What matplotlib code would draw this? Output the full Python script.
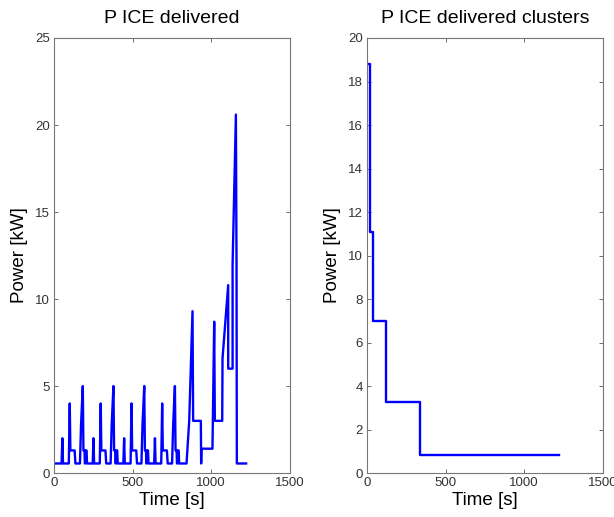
import numpy as np
import matplotlib.pyplot as plt

plt.rcParams['font.family'] = ['Liberation Sans', 'DejaVu Sans']

# P ICE delivered: time [s] and power [kW]
t_ice = [0, 48, 53, 57, 94, 100, 104, 131, 136, 165, 172, 183, 187, 194, 196, 199, 201, 207, 210,
         246, 251, 255, 291, 297, 301, 327, 332, 360, 367, 378, 382, 389, 391, 394, 396, 402, 405,
         441, 446, 450, 487, 493, 497, 523, 528, 556, 563, 574, 578, 585, 587, 590, 592, 598, 601,
         637, 642, 646, 682, 688, 692, 718, 723, 751, 758, 769, 773, 780, 782, 785, 787, 793, 796,
         843, 860, 881, 885, 934, 936, 938, 1008, 1019, 1023, 1070, 1072, 1108, 1108, 1136, 1136,
         1157, 1161, 1163, 1222]
p_ice = [0.55, 0.55, 2.0, 0.55, 0.55, 4.0, 1.3, 1.3, 0.55, 0.55, 2.8, 5.0, 1.3, 1.3, 0.55, 0.55, 1.3, 1.3, 0.55,
         0.55, 2.0, 0.55, 0.55, 4.0, 1.3, 1.3, 0.55, 0.55, 2.8, 5.0, 1.3, 1.3, 0.55, 0.55, 1.3, 1.3, 0.55,
         0.55, 2.0, 0.55, 0.55, 4.0, 1.3, 1.3, 0.55, 0.55, 2.8, 5.0, 1.3, 1.3, 0.55, 0.55, 1.3, 1.3, 0.55,
         0.55, 2.0, 0.55, 0.55, 4.0, 1.3, 1.3, 0.55, 0.55, 2.8, 5.0, 1.3, 1.3, 0.55, 0.55, 1.3, 1.3, 0.55,
         0.55, 3.0, 9.3, 3.0, 3.0, 0.55, 1.4, 1.4, 8.7, 3.0, 3.0, 6.6, 10.8, 6.0, 6.0, 12.0,
         20.6, 12.0, 0.55, 0.55]

# P ICE delivered clusters (step profile)
t_cl = [5, 17, 40, 117, 339, 1220]
p_cl = [18.8, 11.1, 7.0, 3.25, 0.82, 0.82]

fig = plt.figure(figsize=(6.14, 5.17), dpi=100)
ax1 = fig.add_axes([0.088, 0.085, 0.384, 0.8415])
ax2 = fig.add_axes([0.598, 0.085, 0.3836, 0.8415])

ax1.plot(t_ice, p_ice, color='#0000ff', linewidth=1.7)
ax2.plot(t_cl, p_cl, color='#0000ff', linewidth=1.7, drawstyle='steps-post')

ax1.set_ylim(0, 25)
ax1.set_yticks(np.arange(0, 26, 5))
ax1.set_title('P ICE delivered', fontsize=14, pad=11)
ax2.set_ylim(0, 20)
ax2.set_yticks(np.arange(0, 21, 2))
ax2.set_title('P ICE delivered clusters', fontsize=14, pad=11)

for ax in (ax1, ax2):
    ax.set_xlim(0, 1500)
    ax.set_xticks([0, 500, 1000, 1500])
    ax.set_xlabel('Time [s]', fontsize=13.5, labelpad=2)
    ax.set_ylabel('Power [kW]', fontsize=13.5, labelpad=5)
    ax.tick_params(direction='in', top=True, right=True, length=3, width=0.6,
                   colors='#555555', labelcolor='#333333', labelsize=9.5, pad=3)
    for s in ax.spines.values():
        s.set_color('#777777')
        s.set_linewidth(0.8)

fig.savefig('out.png', dpi=100)
